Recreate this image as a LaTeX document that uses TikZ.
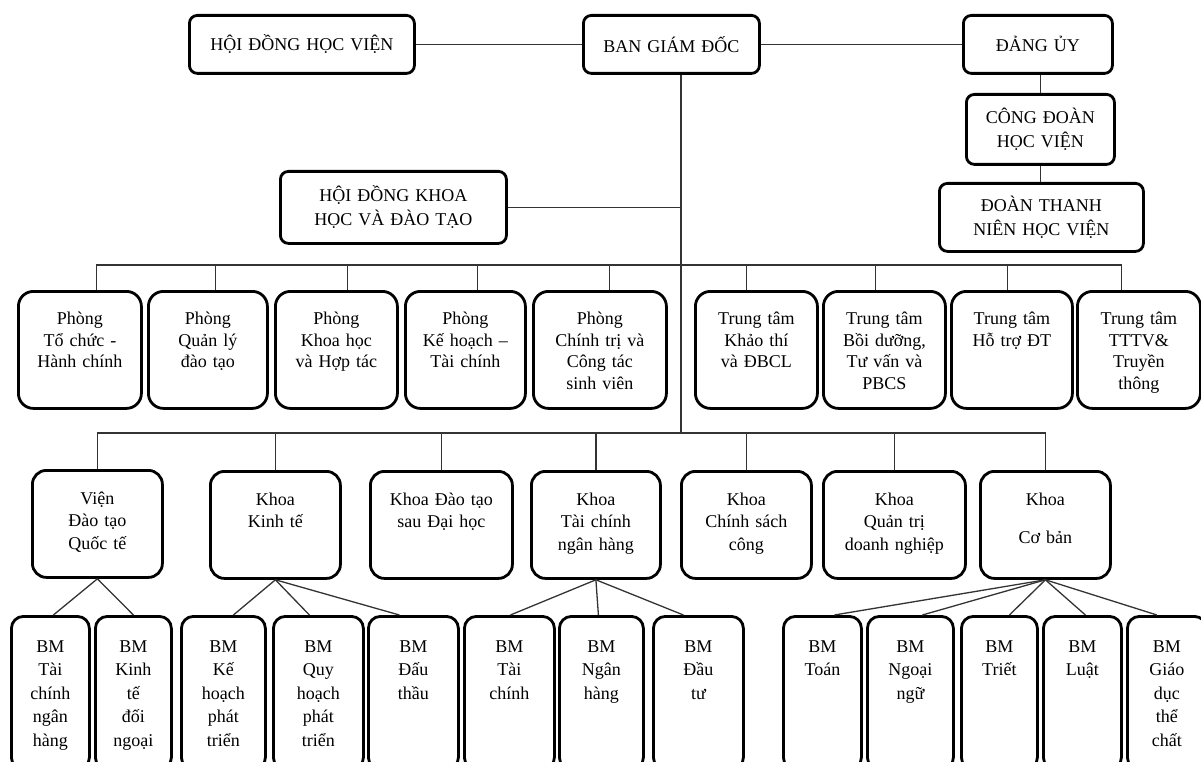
\documentclass[tikz,border=0pt]{standalone}
\usepackage{fontspec}
\setmainfont{Liberation Serif}
\begin{document}
\begin{tikzpicture}[x=1pt,y=-1pt,
    box/.style={draw=black, line width=2.8pt, align=center, inner sep=0pt,
      anchor=north west, font=\fontsize{18pt}{24pt}\selectfont},
    wd/.style={minimum width=#1pt, text width=#1pt},
    topbox/.style={box, rounded corners=8pt},
    pbox/.style={box, rounded corners=15pt, text height=33pt, text depth=84pt,
      font=\fontsize{18pt}{21.7pt}\selectfont},
    kbox/.style={box, rounded corners=14pt, text height=34pt, text depth=73pt,
      font=\fontsize{18pt}{22.5pt}\selectfont},
    bmbox/.style={box, rounded corners=12pt, text height=36pt, text depth=117pt,
      font=\fontsize{18pt}{23.4pt}\selectfont},
    link/.style={draw=black!80, line width=1.3pt}]
  \path[use as bounding box, clip] (0,0) rectangle (1201,762);

  % top level
  \node[topbox, wd=225, minimum height=58pt] (hdhv) at (188,14) {HỘI ĐỒNG HỌC VIỆN};
  \node[topbox, wd=176, minimum height=58pt] (bgd) at (582,14) {BAN GIÁM ĐỐC};
  \node[topbox, wd=149, minimum height=58pt] (dangUy) at (962,14) {ĐẢNG ỦY};
  \node[topbox, wd=148, minimum height=70pt] (congDoan) at (965,93) {CÔNG ĐOÀN\\HỌC VIỆN};
  \node[topbox, wd=204, minimum height=68pt] (doanTN) at (938,182) {ĐOÀN THANH\\NIÊN HỌC VIỆN};
  \node[topbox, wd=226, minimum height=72pt] (hdkh) at (279,170) {HỘI ĐỒNG KHOA\\HỌC VÀ ĐÀO TẠO};

  % phong and trung tam
  \node[pbox, wd=123] (p1) at (17,290) {Phòng\\Tổ chức -\\Hành chính};
  \node[pbox, wd=119] (p2) at (147,290) {Phòng\\Quản lý\\đào tạo};
  \node[pbox, wd=122] (p3) at (274,290) {Phòng\\Khoa học\\và Hợp tác};
  \node[pbox, wd=120] (p4) at (404,290) {Phòng\\Kế hoạch –\\Tài chính};
  \node[pbox, wd=133] (p5) at (532,290) {Phòng\\Chính trị và\\Công tác\\sinh viên};
  \node[pbox, wd=122] (t1) at (694,290) {Trung tâm\\Khảo thí\\và ĐBCL};
  \node[pbox, wd=122] (t2) at (822,290) {Trung tâm\\Bồi dưỡng,\\Tư vấn và\\PBCS};
  \node[pbox, wd=121] (t3) at (950,290) {Trung tâm\\Hỗ trợ ĐT};
  \node[pbox, wd=123] (t4) at (1076,290) {Trung tâm\\TTTV\&\\Truyền\\thông};

  % khoa
  \node[kbox, wd=130] (k1) at (31,469) {Viện\\Đào tạo\\Quốc tế};
  \node[kbox, wd=130] (k2) at (209,470) {Khoa\\Kinh tế};
  \node[kbox, wd=142] (k3) at (369,470) {Khoa Đào tạo\\sau Đại học};
  \node[kbox, wd=129] (k4) at (530,470) {Khoa\\Tài chính\\ngân hàng};
  \node[kbox, wd=130] (k5) at (680,470) {Khoa\\Chính sách\\công};
  \node[kbox, wd=142] (k6) at (822,470) {Khoa\\Quản trị\\doanh nghiệp};
  \node[kbox, wd=130] (k7) at (979,470) {Khoa\\[16pt]Cơ bản};

  % bo mon
  \node[bmbox, wd=78] (b1) at (10,615) {BM\\Tài\\chính\\ngân\\hàng};
  \node[bmbox, wd=76] (b2) at (94,615) {BM\\Kinh\\tế\\đối\\ngoại};
  \node[bmbox, wd=84] (b3) at (180,615) {BM\\Kế\\hoạch\\phát\\triển};
  \node[bmbox, wd=90] (b4) at (272,615) {BM\\Quy\\hoạch\\phát\\triển};
  \node[bmbox, wd=90] (b5) at (367,615) {BM\\Đấu\\thầu};
  \node[bmbox, wd=90] (b6) at (463,615) {BM\\Tài\\chính};
  \node[bmbox, wd=84] (b7) at (558,615) {BM\\Ngân\\hàng};
  \node[bmbox, wd=90] (b8) at (652,615) {BM\\Đầu\\tư};
  \node[bmbox, wd=78] (b9) at (782,615) {BM\\Toán};
  \node[bmbox, wd=86] (b10) at (866,615) {BM\\Ngoại\\ngữ};
  \node[bmbox, wd=76] (b11) at (960,615) {BM\\Triết};
  \node[bmbox, wd=78] (b12) at (1042,615) {BM\\Luật};
  \node[bmbox, wd=79] (b13) at (1126,615) {BM\\Giáo\\dục\\thể\\chất};

  % connectors
  \coordinate (trunk) at (681,433);
  \coordinate (pbus) at (681,265);
  \draw[link] (hdhv.east) -- (bgd.west);
  \draw[link] (bgd.east) -- (dangUy.west);
  \draw[link] (dangUy.south -| congDoan.north) -- (congDoan.north);
  \draw[link] (congDoan.south) -- (congDoan.south |- doanTN.north);
  \draw[link] (trunk |- bgd.south) -- (trunk);
  \draw[link] (hdkh.east) -- (hdkh.east -| trunk);
  \foreach \n/\d in {p1/16.5pt, p2/7.5pt, p3/11pt, p4/12pt, p5/9.5pt,
      t1/-10pt, t2/-9pt, t3/-4.5pt, t4/-17.5pt}
    \draw[link] ([xshift=\d]\n.north) |- (pbus);
  \foreach \n in {k1,k2,k3,k4,k5,k6,k7}
    \draw[link] (\n.north) |- (trunk);
  \foreach \k/\b/\d in {k1/b1/3pt, k1/b2/0pt, k2/b3/10pt, k2/b4/-9pt, k2/b5/-14pt,
      k4/b6/1pt, k4/b7/-3pt, k4/b8/-15pt, k7/b9/12pt, k7/b10/12pt,
      k7/b11/10pt, k7/b12/3pt, k7/b13/-10pt}
    \draw[link] (\k.south) -- ([xshift=\d]\b.north);
\end{tikzpicture}
\end{document}
